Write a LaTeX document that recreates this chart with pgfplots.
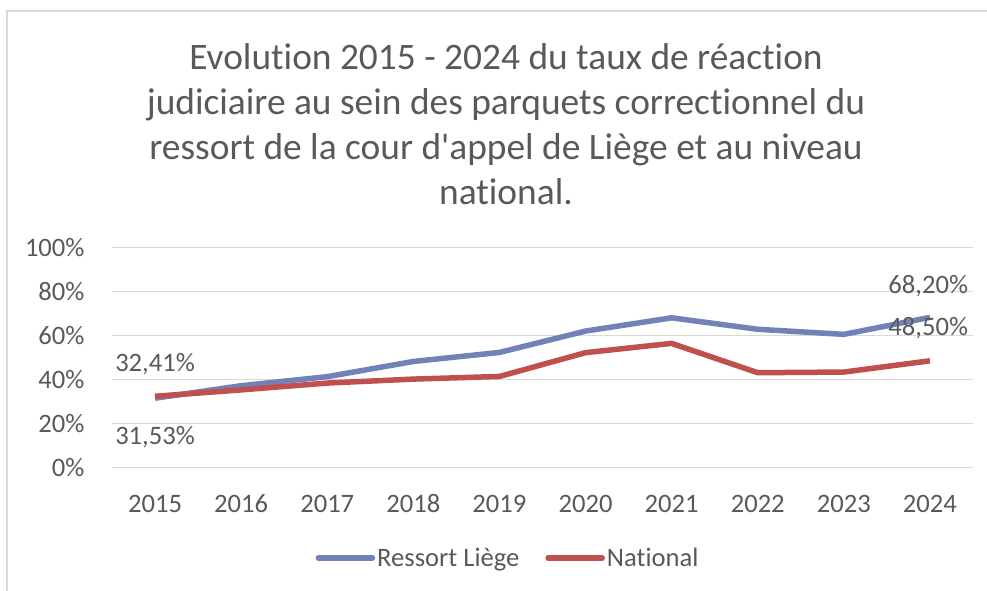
\documentclass[border=0pt]{standalone}
\usepackage{pgfplots}
\pgfplotsset{compat=1.18}
\usepackage{fontspec}
\setmainfont{Carlito}[Ligatures=NoCommon]
\definecolor{txt}{HTML}{595959}
\definecolor{gridc}{HTML}{D9D9D9}
\definecolor{blueL}{HTML}{7282B9}
\definecolor{redN}{HTML}{C0504D}
\begin{document}
\begin{tikzpicture}[x=1pt,y=1pt]
\path[use as bounding box] (0,0) rectangle (987,591);
\draw[gridc,line width=1.5pt] (7,0) -- (7,580) -- (987,580);
\node[align=center,text=txt,font=\fontsize{37.4}{45}\selectfont] at (506,467)
 {Evolution 2015 - 2024 du taux de réaction\\judiciaire au sein des parquets correctionnel du\\ressort de la cour d\textquotesingle appel de Liège et au niveau\\national.};
\begin{axis}[
 at={(112pt,123.3pt)}, anchor=south west,
 scale only axis, width=861pt, height=220.4pt,
 xmin=-0.5, xmax=9.5, ymin=0, ymax=100,
 axis line style={draw=none},
 xtick={0,...,9},
 xticklabels={2015,2016,2017,2018,2019,2020,2021,2022,2023,2024},
 ytick={0,20,40,60,80,100},
 yticklabels={0\%,20\%,40\%,60\%,80\%,100\%},
 major tick length=0pt,
 ymajorgrids, grid style={gridc,line width=1.5pt},
 tick label style={text=txt,font=\fontsize{26.6}{30}\selectfont},
 xticklabel style={yshift=-23pt,text height=18pt,text depth=0pt},
 yticklabel style={xshift=-24pt},
 legend style={draw=none,fill=none,at={(0.46,-0.41)},anchor=center,
   font=\fontsize{26.6}{30}\selectfont,text=txt,legend columns=2,
   /tikz/every even column/.append style={column sep=24pt}},
 legend image code/.code={\draw[#1,line cap=round] (0pt,0pt) -- (54pt,0pt);},
 clip=false,
]
\addplot[blueL,line width=5.5pt,line join=round] coordinates {
 (0,31.53) (1,37.2) (2,41.3) (3,48.2) (4,52.3) (5,62.0) (6,68.0) (7,62.8) (8,60.5) (9,68.20)};
\addlegendentry{Ressort Liège}
\addplot[redN,line width=5.5pt,line join=round] coordinates {
 (0,32.41) (1,35.3) (2,38.4) (3,40.2) (4,41.4) (5,52.2) (6,56.4) (7,43.1) (8,43.4) (9,48.50)};
\addlegendentry{National}
\node[text=txt,font=\fontsize{26.6}{30}\selectfont] at (axis cs:0,47.0) {32,41\%};
\node[text=txt,font=\fontsize{26.6}{30}\selectfont] at (axis cs:0,13.9) {31,53\%};
\node[text=txt,font=\fontsize{26.6}{30}\selectfont] at (axis cs:8.98,82.6) {68,20\%};
\node[text=txt,font=\fontsize{26.6}{30}\selectfont] at (axis cs:8.98,63.4) {48,50\%};
\end{axis}
\end{tikzpicture}
\end{document}
